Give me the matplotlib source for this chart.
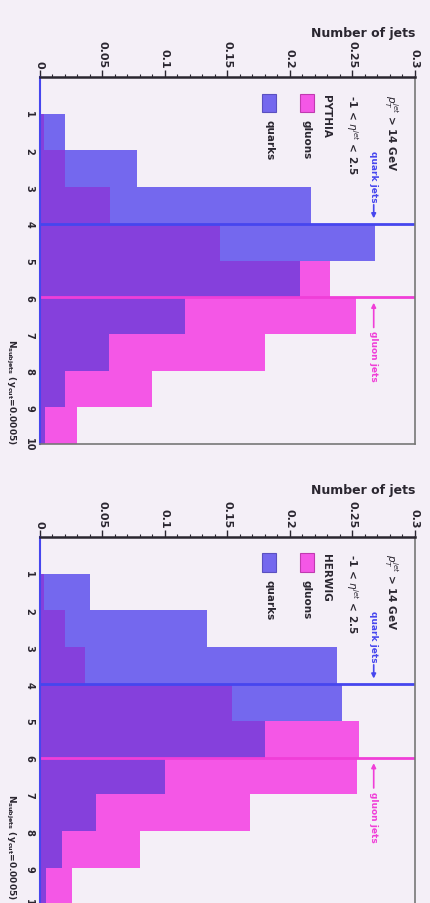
import numpy as np
import matplotlib.pyplot as plt

# N_subjets bins (lower edges), width 1
bin_lo = [1, 2, 3, 4, 5, 6, 7, 8, 9]

pythia_quarks = [0.020, 0.078, 0.217, 0.268, 0.208, 0.116, 0.055, 0.020, 0.004]
pythia_gluons = [0.003, 0.020, 0.056, 0.144, 0.232, 0.253, 0.180, 0.090, 0.030]
herwig_quarks = [0.040, 0.134, 0.238, 0.242, 0.180, 0.100, 0.045, 0.018, 0.005]
herwig_gluons = [0.003, 0.020, 0.036, 0.154, 0.255, 0.254, 0.168, 0.080, 0.026]

mean_quark = 4.0
mean_gluon = 6.0

x_ticks = [0, 0.05, 0.1, 0.15, 0.2, 0.25, 0.3]
x_ticklabels = ['0', '0.05', '0.1', '0.15', '0.2', '0.25', '0.3']
y_ticks = [1, 2, 3, 4, 5, 6, 7, 8, 9, 10]

bg = '#f4eff7'
c_quark = '#7468ee'
c_gluon = '#f457e6'
c_both = '#8540dc'
c_qline = '#4646ee'
c_gline = '#f03ed8'
ink = '#2a2630'


def draw_panel(ax, quarks, gluons, generator):
	ax.set_facecolor(bg)
	both = np.minimum(quarks, gluons)
	ax.barh(bin_lo, gluons, height=1, align='edge', color=c_gluon, linewidth=0)
	ax.barh(bin_lo, quarks, height=1, align='edge', color=c_quark, linewidth=0)
	ax.barh(bin_lo, both, height=1, align='edge', color=c_both, linewidth=0)

	ax.axhline(mean_quark, color=c_qline, lw=2)
	ax.axhline(mean_gluon, color=c_gline, lw=2)

	ax.set_xlim(0, 0.3)
	ax.set_ylim(10, 0)
	ax.xaxis.tick_top()
	ax.set_xticks(x_ticks)
	ax.set_xticklabels(x_ticklabels, rotation=-90, fontsize=8, fontweight='heavy', color=ink)
	ax.set_xticks(np.arange(0, 0.3, 0.01), minor=True)
	ax.set_yticks(y_ticks)
	ax.set_yticklabels([str(v) for v in y_ticks], rotation=-90, fontsize=7,
		fontweight='heavy', color=ink, va='center')
	ax.tick_params(axis='x', which='major', length=5, width=1, pad=2, colors=ink)
	ax.tick_params(axis='x', which='minor', length=2.5, width=0.8, colors=ink)
	ax.tick_params(axis='y', length=0, pad=4)
	ax.spines['top'].set_linewidth(1.8)
	ax.spines['top'].set_color(ink)
	for s in ['right', 'bottom']:
		ax.spines[s].set_color('#777777')
		ax.spines[s].set_linewidth(1.2)
	ax.spines['left'].set_color(c_qline)
	ax.spines['left'].set_linewidth(1.5)

	# legend, drawn rotated like the rest of the page
	ax.add_patch(plt.Rectangle((0.178, 0.45), 0.011, 0.5, facecolor=c_quark, edgecolor='#5a50c0', lw=0.8))
	ax.add_patch(plt.Rectangle((0.208, 0.45), 0.011, 0.5, facecolor=c_gluon, edgecolor='#c03ab0', lw=0.8))
	txt = dict(rotation=-90, fontsize=7.5, fontweight='heavy', color=ink, va='top', ha='center')
	ax.text(0.1835, 1.15, 'quarks', **txt)
	ax.text(0.2135, 1.15, 'gluons', **txt)
	ax.text(0.2285, 0.45, generator, **txt)
	ax.text(0.2495, 0.45, r'-1 < $\eta^{jet}$ < 2.5', **txt)
	ax.text(0.2805, 0.45, r'$p_T^{jet}$ > 14 GeV', **txt)

	ax.annotate('quark jets', xy=(0.267, 3.85), xytext=(0.267, 2.0),
		rotation=-90, fontsize=6.5, fontweight='heavy', color=c_qline,
		ha='center', va='top',
		arrowprops=dict(arrowstyle='-|>', color=c_qline, lw=1.2, shrinkA=0, shrinkB=0))
	ax.annotate('gluon jets', xy=(0.267, 6.15), xytext=(0.267, 6.9),
		rotation=-90, fontsize=6.5, fontweight='heavy', color=c_gline,
		ha='center', va='top',
		arrowprops=dict(arrowstyle='-|>', color=c_gline, lw=1.2, shrinkA=0, shrinkB=0))


fig = plt.figure(figsize=(4.3, 9.04), dpi=100)
fig.patch.set_facecolor(bg)

ax1 = fig.add_axes([0.093, 0.5077, 0.872, 0.406])
ax2 = fig.add_axes([0.093, -0.002, 0.872, 0.407])

draw_panel(ax1, pythia_quarks, pythia_gluons, 'PYTHIA')
draw_panel(ax2, herwig_quarks, herwig_gluons, 'HERWIG')

fig.text(0.965, 0.963, 'Number of jets', ha='right', va='center', fontsize=9, fontweight='heavy', color=ink)
fig.text(0.965, 0.457, 'Number of jets', ha='right', va='center', fontsize=9, fontweight='heavy', color=ink)

ylab = r'$\mathbf{N_{subjets}}$ $\mathbf{(y_{cut}}$=0.0005)'
fig.text(0.025, 0.5077, ylab, rotation=-90, ha='center', va='bottom', fontsize=6.5, fontweight='heavy', color=ink)
fig.text(0.025, 0.004, ylab, rotation=-90, ha='center', va='bottom', fontsize=6.5, fontweight='heavy', color=ink)

fig.savefig('out.png', dpi=100, facecolor=bg)
